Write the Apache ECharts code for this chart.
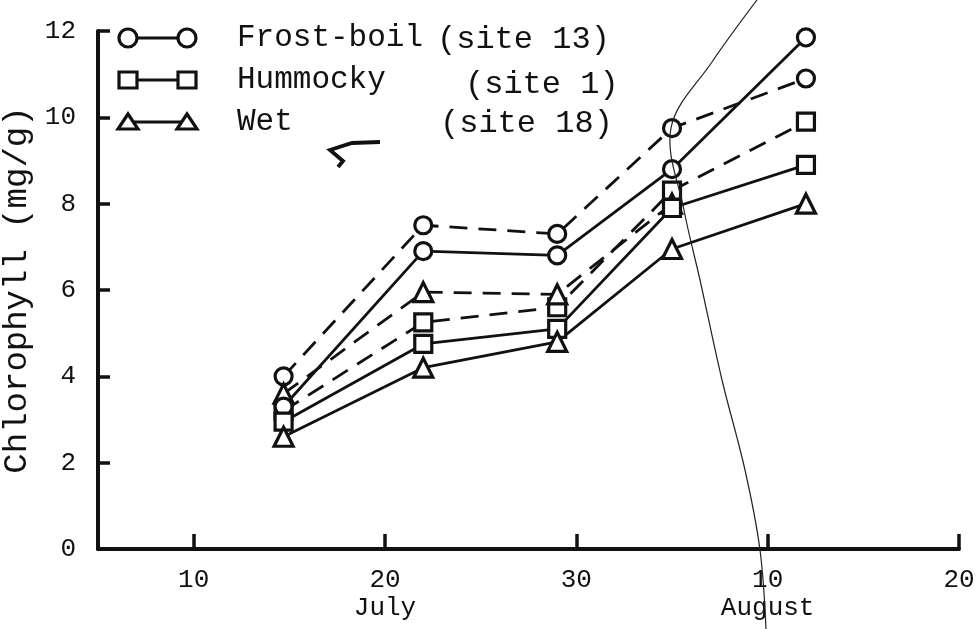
<!DOCTYPE html>
<html>
<head>
<meta charset="utf-8">
<script src="https://cdn.jsdelivr.net/npm/echarts@6/dist/echarts.min.js"></script>
<style>
  html, body { margin: 0; padding: 0; background: #ffffff; }
  #chart { width: 978px; height: 629px; }
</style>
</head>
<body>
<div id="chart"></div>
<script>
// Sampling days, counted from 1 July (so 32 = 1 August)
const days = [14.7, 22, 29, 35, 42];

// Chlorophyll content (mg/g) per site; solid = first set, dashed = second set
const frostBoilSolid  = [3.3, 6.9, 6.8, 8.8, 11.85];
const frostBoilDashed = [4.0, 7.5, 7.3, 9.75, 10.9];
const hummockySolid   = [2.95, 4.75, 5.1, 7.9, 8.9];
const hummockyDashed  = [3.2, 5.25, 5.6, 8.3, 9.9];
const wetSolid        = [2.6, 4.2, 4.8, 6.95, 8.0];
const wetDashed       = [3.6, 5.95, 5.9, 8.0, null];

// Axis ticks
const xTickDays   = [10, 20, 30, 40, 50];
const xTickLabels = ['10', '20\nJuly', '30', '10\nAugust', '20'];
const yTicks      = [0, 2, 4, 6, 8, 10, 12];

// Legend entries
const legendNames = ['Frost-boil', 'Hummocky', 'Wet'];
const legendSites = ['(site 13)', '(site 1)', '(site 18)'];

const INK = '#111111';
const FONT = '"Liberation Mono", "DejaVu Sans Mono", monospace';

function pairs(values) {
  return days.map((d, i) => [d, values[i]]);
}

function lineSeries(name, values, symbol, dashed) {
  return {
    name: name,
    type: 'line',
    data: pairs(values),
    symbol: symbol,
    symbolSize: symbol === 'triangle' ? 19 : 17,
    showSymbol: true,
    connectNulls: false,
    lineStyle: { color: INK, width: 2.8, type: dashed ? [18, 11] : 'solid' },
    itemStyle: { color: '#ffffff', borderColor: INK, borderWidth: 3.2 },
    emphasis: { disabled: true },
    animation: false,
    z: dashed ? 3 : 4
  };
}

const chart = echarts.init(document.getElementById('chart'), null, { renderer: 'canvas' });

// Legend glyphs: marker — line — marker, then the site text
const legendSymbols = ['circle', 'rect', 'triangle'];
const legendY = [38, 80, 122];
const legendGraphics = [];
legendSymbols.forEach((sym, i) => {
  const y = legendY[i];
  const x1 = 128, x2 = 187;
  legendGraphics.push({
    type: 'line', shape: { x1: x1, y1: y, x2: x2, y2: y },
    style: { stroke: INK, lineWidth: 2.8 }, z: 10
  });
  [x1, x2].forEach(x => {
    let el;
    if (sym === 'circle') {
      el = { type: 'circle', shape: { cx: x, cy: y, r: 9 } };
    } else if (sym === 'rect') {
      el = { type: 'rect', shape: { x: x - 9, y: y - 8, width: 18, height: 16 } };
    } else {
      el = { type: 'polygon', shape: { points: [[x, y - 8], [x + 10, y + 7], [x - 10, y + 7]] } };
    }
    el.style = { fill: '#ffffff', stroke: INK, lineWidth: 3.2 };
    el.z = 11;
    legendGraphics.push(el);
  });
  legendGraphics.push({
    type: 'text', x: 237, y: y, z: 11,
    style: { text: legendNames[i], font: '31px ' + FONT, fill: INK, textVerticalAlign: 'middle' }
  });
});
const siteX = [437, 465, 440];
const siteY = [40, 85, 124];
legendSites.forEach((t, i) => {
  legendGraphics.push({
    type: 'text', x: siteX[i], y: siteY[i], z: 11,
    style: { text: t, font: '32px ' + FONT, fill: INK, textVerticalAlign: 'middle' }
  });
});

// thin pen stroke crossing the sheet
legendGraphics.push({
  type: 'polyline',
  shape: {
    points: [[757, 0], [712, 62], [671, 128], [684, 210], [700, 280], [722, 380], [745, 470], [760, 550], [766, 629]],
    smooth: 0.35
  },
  style: { stroke: '#222', lineWidth: 1.2, fill: null },
  z: 20
});
// small tick mark drawn beside the Wet entry
legendGraphics.push({
  type: 'polyline',
  shape: { points: [[380, 142], [352, 143], [330, 150], [343, 161], [338, 167]] },
  style: { stroke: INK, lineWidth: 3.8, fill: null },
  z: 11
});

const option = {
  backgroundColor: '#ffffff',
  animation: false,
  grid: { left: 98, right: 19, top: 31, bottom: 80, containLabel: false, outerBoundsMode: 'none' },
  xAxis: {
    type: 'value',
    min: 5,
    max: 50,
    axisLine: { show: true, onZero: false, lineStyle: { color: INK, width: 4 } },
    axisTick: {
      show: true, inside: true, length: 15,
      customValues: xTickDays,
      lineStyle: { color: INK, width: 3.5 }
    },
    axisLabel: {
      customValues: xTickDays,
      margin: 17,
      color: INK,
      fontFamily: FONT,
      fontSize: 26,
      lineHeight: 28,
      formatter: function (v) {
        const i = xTickDays.indexOf(v);
        return i >= 0 ? xTickLabels[i] : '';
      }
    },
    splitLine: { show: false }
  },
  yAxis: {
    type: 'value',
    min: yTicks[0],
    max: yTicks[yTicks.length - 1],
    interval: 2,
    name: 'Chlorophyll (mg/g)',
    nameLocation: 'middle',
    nameGap: 49,
    nameRotate: 90,
    nameTextStyle: { color: INK, fontFamily: FONT, fontSize: 34 },
    axisLine: { show: true, lineStyle: { color: INK, width: 4 } },
    axisTick: { show: true, inside: true, length: 12, lineStyle: { color: INK, width: 3.5 } },
    axisLabel: { margin: 22, color: INK, fontFamily: FONT, fontSize: 26 },
    splitLine: { show: false }
  },
  graphic: legendGraphics,
  series: [
    lineSeries('Frost-boil dashed', frostBoilDashed, 'circle', true),
    lineSeries('Hummocky dashed', hummockyDashed, 'rect', true),
    lineSeries('Wet dashed', wetDashed, 'triangle', true),
    lineSeries('Frost-boil', frostBoilSolid, 'circle', false),
    lineSeries('Hummocky', hummockySolid, 'rect', false),
    lineSeries('Wet', wetSolid, 'triangle', false)
  ]
};

chart.setOption(option);
</script>
</body>
</html>
